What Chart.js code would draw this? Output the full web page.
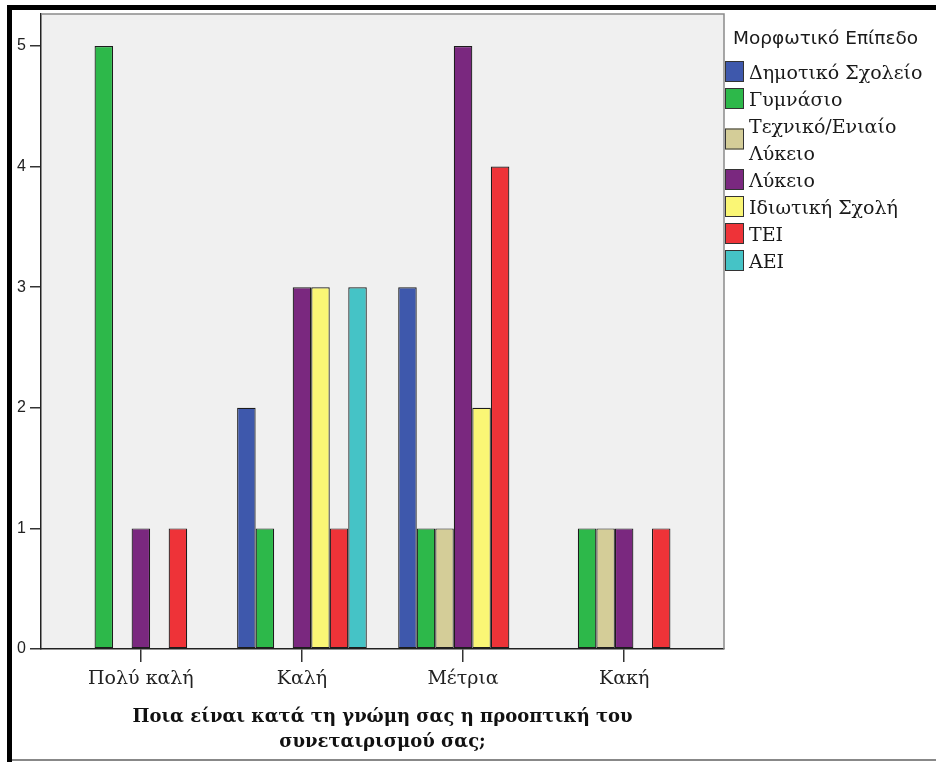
<!DOCTYPE html>
<html><head><meta charset="utf-8">
<script src="https://cdn.jsdelivr.net/npm/chart.js@4.4.1/dist/chart.umd.min.js"></script>
<style>html,body{margin:0;padding:0;background:#fff;} #wrap{position:relative;width:936px;height:762px;}</style>
</head><body><div id="wrap"><canvas id="c" width="936" height="762"></canvas></div>
<script>
const categories = ['Πολύ καλή', 'Καλή', 'Μέτρια', 'Κακή'];
const seriesNames = ['Δημοτικό Σχολείο', 'Γυμνάσιο', 'Τεχνικό/Ενιαίο Λύκειο', 'Λύκειο', 'Ιδιωτική Σχολή', 'ΤΕΙ', 'ΑΕΙ'];
const dimotiko = [0, 2, 3, 0];
const gymnasio = [5, 1, 1, 1];
const texniko  = [0, 0, 1, 1];
const lykeio   = [1, 3, 5, 1];
const idiotiki = [0, 3, 2, 0];
const tei      = [1, 1, 4, 1];
const aei      = [0, 3, 0, 0];
const yTicks = [0, 1, 2, 3, 4, 5];
const legendTitle = 'Μορφωτικό Επίπεδο';
const xTitle = ['Ποια είναι κατά τη γνώμη σας η προοπτική του', 'συνεταιρισμού σας;'];
const colors = ['#3E58AC', '#2DB84A', '#D4CD98', '#7A287F', '#FAF675', '#EE3338', '#45C3C6'];

const seriesValues = [dimotiko, gymnasio, texniko, lykeio, idiotiki, tei, aei];
const SERIF = '"DejaVu Serif", "Liberation Serif", serif';

const datasets = seriesValues.map((arr, k) => ({
  label: seriesNames[k],
  data: arr.map((v, i) => ({x: i, y: v})),
  backgroundColor: colors[k],
  borderColor: '#1c1c1c',
  borderWidth: ctx => (ctx.raw && ctx.raw.y) ? 1.2 : 0,
  borderSkipped: false,
  barPercentage: 1,
  categoryPercentage: 0.805
}));

function wrapText(ctx, text, maxW) {
  const words = text.split(' ');
  const lines = [];
  let cur = '';
  words.forEach(w => {
    const t = cur ? cur + ' ' + w : w;
    if (ctx.measureText(t).width > maxW && cur) { lines.push(cur); cur = w; }
    else cur = t;
  });
  if (cur) lines.push(cur);
  return lines;
}

const framePlugin = {
  id: 'frame',
  beforeDraw(chart) {
    const {ctx, chartArea: a} = chart;
    ctx.save();
    ctx.fillStyle = '#ffffff';
    ctx.fillRect(0, 0, chart.width, chart.height);
    ctx.fillStyle = '#F0F0F0';
    ctx.fillRect(a.left, a.top, a.right - a.left, a.bottom - a.top);
    ctx.restore();
  },
  afterDraw(chart) {
    const {ctx, chartArea: a} = chart;
    ctx.save();
    ctx.strokeStyle = '#8a8a8a';
    ctx.lineWidth = 1.5;
    ctx.beginPath();
    ctx.moveTo(a.left, a.top); ctx.lineTo(a.right, a.top); ctx.lineTo(a.right, a.bottom);
    ctx.stroke();
    ctx.fillStyle = '#000';
    ctx.fillRect(7, 5, 929, 5);
    ctx.fillRect(7, 5, 5, 757);
    ctx.fillStyle = '#888';
    ctx.fillRect(12, 759, 924, 2);
    // legend
    ctx.fillStyle = '#1a1a1a';
    ctx.textBaseline = 'alphabetic';
    ctx.textAlign = 'left';
    ctx.font = '18.5px "DejaVu Sans", sans-serif';
    ctx.fillText(legendTitle, 733, 44);
    ctx.font = '19px ' + SERIF;
    let y = 58;
    chart.data.datasets.forEach(ds => {
      const lines = wrapText(ctx, ds.label, 184);
      const h = 27 * lines.length;
      const cy = y + h / 2;
      ctx.fillStyle = ds.backgroundColor;
      ctx.fillRect(725, cy - 10.5, 19, 21);
      ctx.strokeStyle = '#333';
      ctx.lineWidth = 1;
      ctx.strokeRect(725.5, cy - 10, 18, 20);
      ctx.fillStyle = '#1a1a1a';
      lines.forEach((ln, j) => ctx.fillText(ln, 749, y + 20.5 + 27 * j));
      y += h;
    });
    ctx.restore();
  }
};

new Chart(document.getElementById('c'), {
  type: 'bar',
  data: {datasets},
  options: {
    responsive: false,
    animation: false,
    layout: {padding: {left: 0, top: 14, right: 212, bottom: 0}},
    plugins: {legend: {display: false}, tooltip: {enabled: false}},
    scales: {
      x: {
        type: 'linear', min: -0.62, max: 3.62, offset: false,
        grid: {offset: false, drawOnChartArea: false, drawTicks: true, tickLength: 13, color: '#333', lineWidth: 1.5},
        border: {display: true, color: '#222', width: 1.5},
        afterBuildTicks: s => { s.ticks = categories.map((c, i) => ({value: i})); },
        ticks: {
          callback: v => categories[v],
          font: {family: SERIF, size: 19},
          color: '#222', padding: 6, maxRotation: 0, autoSkip: false
        },
        title: {
          display: true, text: xTitle, color: '#111',
          font: {family: SERIF, size: 18, weight: 'bold', lineHeight: 1.35},
          padding: {top: 0, bottom: 8}
        },
        afterFit: s => { s.height = 113; }
      },
      y: {
        min: 0, max: 5.265,
        grid: {drawOnChartArea: false, drawTicks: true, tickLength: 11, color: '#333', lineWidth: 1.5},
        border: {display: true, color: '#222', width: 1.5},
        afterBuildTicks: s => { s.ticks = yTicks.map(v => ({value: v})); },
        ticks: {font: {family: '"Liberation Sans", Arial, sans-serif', size: 16}, color: '#222', padding: 4},
        afterFit: s => { s.width = 41; }
      }
    }
  },
  plugins: [framePlugin]
});
</script>
</body></html>
